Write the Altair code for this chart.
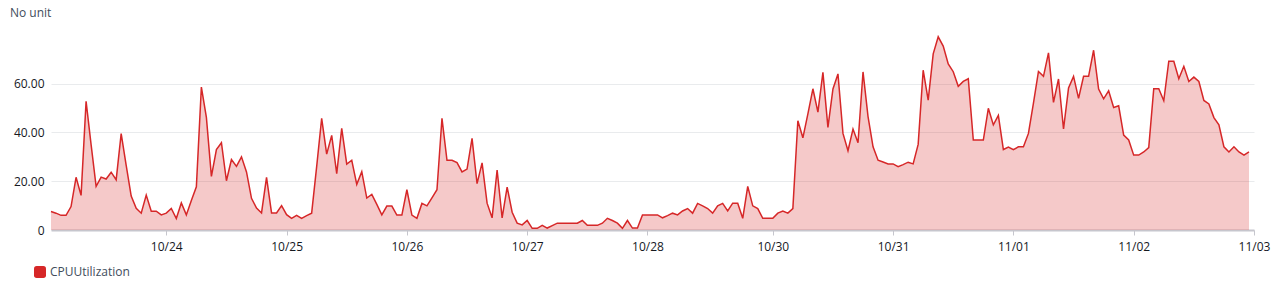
import altair as alt
import pandas as pd

# Hourly CPUUtilization readings
cpu = [
    7.6, 6.9, 6.0, 6.0, 9.6, 21.6, 14.2, 52.8, 35.0, 17.9,
    21.7, 20.9, 23.7, 20.6, 39.5, 26.5, 13.9, 8.9, 6.9, 14.3,
    7.7, 7.7, 6.2, 6.9, 8.8, 4.7, 11.1, 6.2, 12.1, 17.7,
    58.6, 46.2, 22.0, 33.0, 35.8, 20.2, 28.9, 26.1, 30.0, 23.8,
    13.0, 9.0, 7.0, 21.6, 7.0, 7.0, 10.0, 6.3, 4.8, 6.0,
    4.8, 5.9, 6.9, 26.0, 45.8, 31.1, 38.8, 23.1, 41.7, 27.0,
    28.6, 18.7, 23.9, 13.1, 14.6, 10.5, 6.2, 9.8, 9.8, 6.1,
    6.1, 16.5, 6.1, 4.8, 10.9, 9.9, 13.2, 16.5, 45.8, 28.6,
    28.6, 27.6, 23.8, 25.0, 37.6, 19.0, 27.5, 11.0, 5.0, 24.6,
    5.0, 17.6, 7.3, 2.8, 2.1, 3.9, 0.7, 0.7, 1.9, 0.8,
    1.8, 2.8, 2.8, 2.8, 2.8, 2.8, 3.9, 1.9, 1.9, 1.9,
    2.8, 4.8, 3.9, 2.8, 0.7, 3.9, 0.8, 0.8, 6.2, 6.2,
    6.2, 6.2, 5.0, 5.9, 6.9, 6.2, 7.8, 8.8, 6.9, 10.9,
    9.9, 8.8, 6.9, 9.9, 10.9, 7.8, 11.0, 11.0, 4.8, 17.9,
    9.9, 8.8, 4.8, 4.8, 4.8, 6.9, 7.8, 6.9, 8.8, 44.8,
    37.8, 47.6, 57.9, 48.3, 64.6, 42.1, 57.8, 64.0, 39.6, 32.5,
    41.4, 35.8, 64.8, 46.5, 34.1, 28.6, 27.9, 27.1, 27.1, 26.0,
    26.8, 27.8, 27.1, 35.1, 65.5, 53.2, 72.2, 79.2, 75.4, 68.1,
    64.9, 58.9, 60.9, 62.0, 36.9, 36.9, 36.9, 49.9, 43.1, 47.0,
    33.0, 34.0, 32.9, 34.1, 34.1, 39.6, 52.0, 65.0, 63.0, 72.6,
    52.3, 61.9, 41.4, 58.2, 63.0, 54.0, 63.0, 63.0, 73.7, 57.8,
    53.8, 57.1, 50.2, 50.9, 38.9, 36.9, 30.7, 30.7, 32.0, 33.8,
    57.9, 57.9, 53.0, 69.2, 69.2, 62.0, 67.1, 60.9, 62.7, 60.9,
    53.1, 51.7, 46.1, 43.1, 34.1, 32.0, 34.1, 32.0, 30.7, 32.0,
]
hours = list(range(len(cpu)))
series = ["CPUUtilization"] * len(cpu)

tick_hours = [23, 47, 71, 95, 119, 144, 168, 192, 216, 240]
tick_labels = ["10/24", "10/25", "10/26", "10/27", "10/28",
               "10/30", "10/31", "11/01", "11/02", "11/03"]
y_ticks = [0, 20, 40, 60]

df = pd.DataFrame({"hour": hours, "value": cpu, "series": series})

RED = "#d62728"
FONT = "Open Sans"

label_expr = "[" + ",".join(f"'{l}'" for l in tick_labels) + "][indexof([" + \
    ",".join(str(t) for t in tick_hours) + "], datum.value)]"

x_enc = alt.X("hour:Q", scale=alt.Scale(domain=[0, 240], nice=False, zero=False),
              axis=alt.Axis(values=tick_hours, labelExpr=label_expr, title=None,
                            grid=False, domainColor="#c6c6cd", domainWidth=2,
                            tickColor="#c6c6cd", tickSize=5, labelPadding=6,
                            labelFont=FONT, labelFontSize=12, labelColor="#16191f",
                            labelFlush=False))
y_enc = alt.Y("value:Q", scale=alt.Scale(domain=[0, 82], nice=False),
              axis=alt.Axis(values=y_ticks, title=None, domain=False, ticks=False,
                            labelExpr="datum.value == 0 ? '0' : format(datum.value, '.2f')",
                            gridColor="#e9ebed", gridWidth=1, labelPadding=7,
                            labelFont=FONT, labelFontSize=12, labelColor="#16191f"))

rounded_square = ("M-1,-0.55 Q-1,-1 -0.55,-1 L0.55,-1 Q1,-1 1,-0.55 L1,0.55 "
                  "Q1,1 0.55,1 L-0.55,1 Q-1,1 -1,0.55 Z")

color_enc = alt.Color("series:N", scale=alt.Scale(range=[RED]),
                      legend=alt.Legend(title=None, orient="none", legendX=-17, legendY=236,
                                        symbolType=rounded_square, symbolSize=144,
                                        symbolOpacity=1, symbolStrokeWidth=0,
                                        symbolFillColor=RED,
                                        labelFont=FONT, labelFontSize=12,
                                        labelColor="#414d5c", labelOffset=4, padding=0))

area = alt.Chart(df).mark_area(fillOpacity=0.25, interpolate="linear").encode(
    x=x_enc, y=y_enc, color=color_enc)
line = alt.Chart(df).mark_line(strokeWidth=1.5, interpolate="linear").encode(
    x="hour:Q", y="value:Q", color=alt.Color("series:N", legend=None))

chart = alt.layer(area, line).properties(
    width=1203, height=200,
    title=alt.TitleParams("No unit", anchor="start", frame="group", dx=-41, offset=10,
                          font=FONT, fontSize=12, fontWeight="normal", color="#414d5c"),
    padding={"left": 51, "top": 30, "right": 23, "bottom": 60},
    autosize=alt.AutoSizeParams(type="none"),
).configure(background="white").configure_view(strokeWidth=0, stroke="transparent")

chart.save("out.html", embed_options={"renderer": "svg", "actions": False})
